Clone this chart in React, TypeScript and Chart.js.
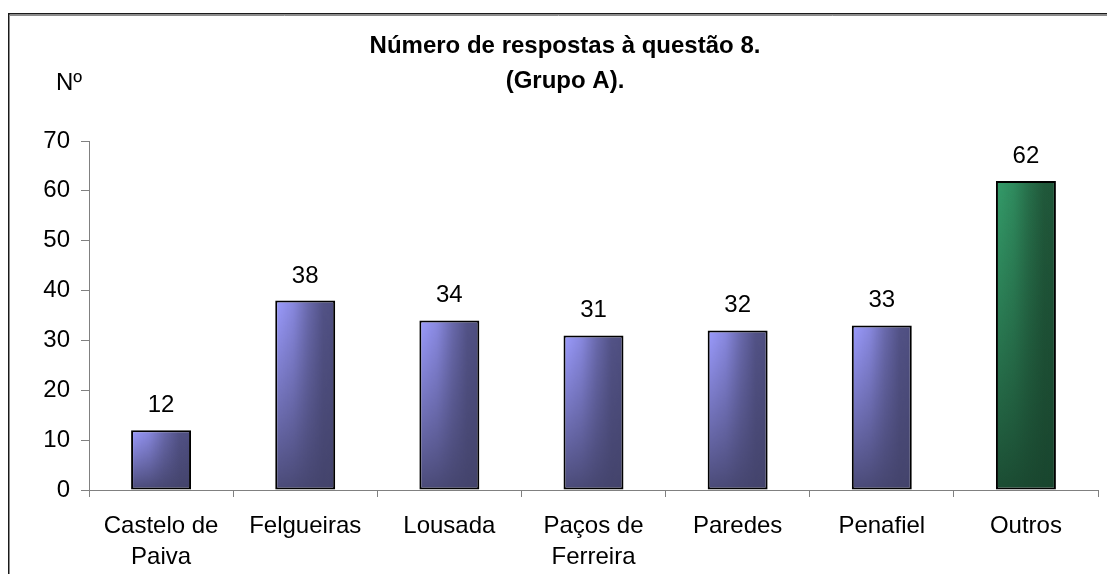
import React, { useEffect, useRef } from "react";
import { Chart, registerables } from "chart.js";

Chart.register(...registerables);

const categories: (string | string[])[] = [
  ["Castelo de", "Paiva"],
  "Felgueiras",
  "Lousada",
  ["Paços de", "Ferreira"],
  "Paredes",
  "Penafiel",
  "Outros",
];
const values: number[] = [12, 38, 34, 31, 32, 33, 62];
const isOther: boolean[] = [false, false, false, false, false, false, true];
const titleLines: string[] = ["Número de respostas à questão 8.", "(Grupo A)."];
const yAxisLabel = "Nº";
const yMax = 70;
const yStep = 10;

const FONT = "'Liberation Sans', Arial, sans-serif";
const BAR_PCT = 0.416;

function makeFill(
  target: CanvasRenderingContext2D,
  x: number,
  y: number,
  w: number,
  h: number,
  light: [number, number, number],
  darkTop: string,
  darkBottom: string
): CanvasPattern | string {
  const cw = Math.max(1, Math.ceil(w));
  const chh = Math.max(1, Math.ceil(h));
  const c = document.createElement("canvas");
  c.width = cw;
  c.height = chh;
  const g = c.getContext("2d");
  if (!g) return darkTop;
  const [r, gg, b] = light;
  const hg = g.createLinearGradient(0, 0, cw, 0);
  hg.addColorStop(0, `rgba(${r},${gg},${b},1)`);
  hg.addColorStop(0.3, `rgba(${r},${gg},${b},0.75)`);
  hg.addColorStop(0.55, `rgba(${r},${gg},${b},0.35)`);
  hg.addColorStop(0.8, `rgba(${r},${gg},${b},0.05)`);
  hg.addColorStop(1, `rgba(${r},${gg},${b},0)`);
  g.fillStyle = hg;
  g.fillRect(0, 0, cw, chh);
  g.globalCompositeOperation = "destination-in";
  const vg = g.createLinearGradient(0, 0, 0, chh);
  vg.addColorStop(0, "rgba(0,0,0,1)");
  vg.addColorStop(1, "rgba(0,0,0,0.08)");
  g.fillStyle = vg;
  g.fillRect(0, 0, cw, chh);
  g.globalCompositeOperation = "destination-over";
  const dg = g.createLinearGradient(0, 0, 0, chh);
  dg.addColorStop(0, darkTop);
  dg.addColorStop(1, darkBottom);
  g.fillStyle = dg;
  g.fillRect(0, 0, cw, chh);
  const p = target.createPattern(c, "no-repeat");
  if (!p) return darkTop;
  p.setTransform(new DOMMatrix([1, 0, 0, 1, x, y]));
  return p;
}

const framePlugin = {
  id: "frameAndTitle",
  beforeDraw(chart: any) {
    const ctx = chart.ctx as CanvasRenderingContext2D;
    ctx.save();
    ctx.fillStyle = "#ffffff";
    ctx.fillRect(0, 0, chart.width, chart.height);
    ctx.strokeStyle = "#1a1a1a";
    ctx.lineWidth = 1.5;
    ctx.strokeRect(8.75, 13.75, chart.width + 20, chart.height + 20);
    ctx.strokeStyle = "#8a8a8a";
    ctx.lineWidth = 1;
    ctx.beginPath();
    ctx.moveTo(10, 15.5);
    ctx.lineTo(chart.width, 15.5);
    ctx.stroke();
    ctx.restore();
  },
  afterDraw(chart: any) {
    const ctx = chart.ctx as CanvasRenderingContext2D;
    ctx.save();
    ctx.fillStyle = "#000000";
    ctx.textAlign = "center";
    ctx.textBaseline = "alphabetic";
    ctx.font = `bold 24px ${FONT}`;
    ctx.fillText(titleLines[0], 565, 53);
    ctx.fillText(titleLines[1], 565, 88);
    ctx.font = `24px ${FONT}`;
    ctx.textAlign = "left";
    ctx.fillText(yAxisLabel, 56, 90);
    ctx.restore();
  },
  afterDatasetsDraw(chart: any) {
    const ctx = chart.ctx as CanvasRenderingContext2D;
    const meta = chart.getDatasetMeta(0);
    ctx.save();
    ctx.fillStyle = "#000000";
    ctx.font = `24px ${FONT}`;
    ctx.textAlign = "center";
    ctx.textBaseline = "alphabetic";
    meta.data.forEach((bar: any, i: number) => {
      ctx.fillText(String(values[i]), bar.x, bar.y - 18);
    });
    ctx.restore();
  },
};

export default function App() {
  const ref = useRef<HTMLCanvasElement | null>(null);

  useEffect(() => {
    const canvas = ref.current;
    if (!canvas) return;

    const fill = (c: any) => {
      const chart = c.chart;
      const i = c.dataIndex;
      const other = isOther[i];
      const fallback = other ? "#1f5538" : "#4e4e80";
      if (c.type !== "data") return fallback;
      const xs = chart.scales?.x;
      const ys = chart.scales?.y;
      if (!xs || !ys || !xs.width) return fallback;
      const cx = xs.getPixelForValue(i);
      const w = (xs.width / values.length) * BAR_PCT;
      const top = ys.getPixelForValue(values[i]);
      const base = ys.getPixelForValue(0);
      return other
        ? makeFill(chart.ctx, cx - w / 2, top, w, base - top, [52, 156, 106], "#1f5538", "#19452e")
        : makeFill(chart.ctx, cx - w / 2, top, w, base - top, [156, 156, 255], "#4e4e80", "#43436b");
    };

    const chart = new Chart(canvas, {
      type: "bar",
      data: {
        labels: categories,
        datasets: [
          {
            data: values,
            backgroundColor: fill,
            borderColor: "#000000",
            borderWidth: 2,
            borderSkipped: false,
            barPercentage: BAR_PCT,
            categoryPercentage: 1,
          },
        ],
      },
      options: {
        responsive: false,
        animation: false,
        events: [],
        layout: { padding: { top: 141, right: 9, bottom: 0, left: 0 } },
        plugins: {
          legend: { display: false },
          title: { display: false },
          tooltip: { enabled: false },
        },
        scales: {
          x: {
            grid: {
              display: true,
              drawOnChartArea: false,
              drawTicks: true,
              tickLength: 7,
              color: "#808080",
              offset: true,
            },
            border: { display: true, color: "#808080", width: 1 },
            ticks: {
              color: "#000000",
              font: { family: FONT, size: 24, lineHeight: 1.3 },
              padding: 14,
              maxRotation: 0,
              autoSkip: false,
            },
            afterFit: (s: any) => {
              s.height = 84;
            },
          },
          y: {
            min: 0,
            max: yMax,
            grid: {
              display: true,
              drawOnChartArea: false,
              drawTicks: true,
              tickLength: 8,
              color: "#808080",
            },
            border: { display: true, color: "#808080", width: 1 },
            ticks: {
              stepSize: yStep,
              color: "#000000",
              font: { family: FONT, size: 24 },
              padding: 11,
            },
            afterFit: (s: any) => {
              s.width = 89;
            },
          },
        },
      },
      plugins: [framePlugin],
    });

    return () => {
      chart.destroy();
    };
  }, []);

  return (
    <div style={{ position: "fixed", left: 0, top: 0, width: 1107, height: 574, background: "#fff" }}>
      <canvas ref={ref} width={1107} height={574} style={{ display: "block", width: 1107, height: 574 }} />
    </div>
  );
}
